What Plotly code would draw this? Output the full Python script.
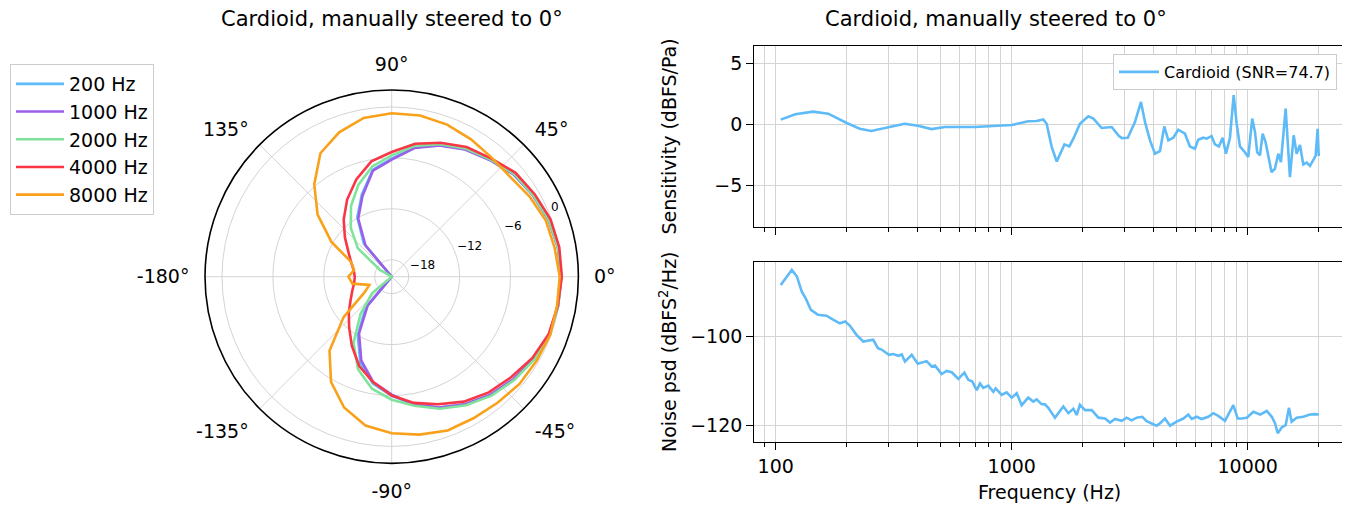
import plotly.graph_objects as go

# ---------------- Data ----------------
# Polar response (dB) sampled every 10 degrees, 0..350
angles_deg = list(range(0, 360, 10))

resp_200hz = [-0.02, -0.1, -0.33, -0.78, -1.22, -2.0, -2.65, -3.5, -4.55, -6.1,
              -7.2, -9.7, -11.9, -14.9, -20, -20, -20, -20, -20, -20,
              -20, -20, -20, -15.2, -12.0, -9.2, -7.2, -5.95, -4.7, -3.6,
              -2.65, -1.85, -1.2, -0.6, -0.25, -0.08]
resp_1000hz = [-0.03, -0.12, -0.35, -0.8, -1.25, -2.05, -2.7, -3.55, -4.6, -6.2,
               -7.3, -9.9, -12.1, -15.2, -20, -20, -20, -20, -20, -20,
               -20, -20, -20, -15.6, -12.3, -9.5, -7.4, -6.1, -4.7, -3.6,
               -2.65, -1.85, -1.25, -0.65, -0.25, -0.1]
resp_2000hz = [-0.03, -0.1, -0.3, -0.75, -1.15, -1.95, -2.55, -3.4, -4.35, -5.7,
               -6.8, -8.5, -10.4, -12.5, -14.8, -18.4, -20, -20, -20, -20,
               -20, -20, -17.0, -14.3, -11.0, -8.4, -6.6, -5.5, -4.55, -3.45,
               -2.5, -1.7, -1.1, -0.57, -0.22, -0.1]
resp_4000hz = [0.05, 0.05, -0.1, -0.55, -0.95, -1.8, -2.35, -3.2, -4.1, -5.3,
               -6.2, -7.8, -9.5, -11.2, -12.8, -14.1, -14.9, -15.45, -15.65, -15.5,
               -15.05, -14.4, -13.4, -12.2, -10.6, -8.8, -7.4, -6.0, -4.9, -4.0,
               -3.0, -2.2, -1.6, -0.85, -0.3, -0.14]
resp_8000hz = [-0.2, -0.5, -0.67, -1.2, -1.74, -1.68, -1.3, -0.93, -0.72, -0.74,
               -1.0, -1.9, -3.2, -5.8, -8.6, -11.8, -14.9, -15.5, -14.9, -15.3,
               -17.2, -16.3, -12.6, -8.6, -5.7, -3.6, -2.2, -1.55, -1.1, -0.72,
               -0.74, -0.6, -0.34, -0.26, -0.1, -0.22]

polar_names = ["200 Hz", "1000 Hz", "2000 Hz", "4000 Hz", "8000 Hz"]
polar_colors = ["#5FBBF7", "#9A5EE9", "#80E39B", "#F93646", "#F9A11B"]
polar_series = [resp_200hz, resp_1000hz, resp_2000hz, resp_4000hz, resp_8000hz]

angle_tickvals = [0, 45, 90, 135, 180, 225, 270, 315]
angle_ticktext = ["0°", "45°", "90°", "135°", "-180°", "-135°", "-90°", "-45°"]
radial_tickvals = [-18, -12, -6, 0]
radial_ticktext = ["−18", "−12", "−6", "0"]

# Sensitivity vs frequency
sens_freq = [105, 121, 144, 167, 200, 227, 254, 299, 352, 401,
             457, 521, 698, 1000, 1176, 1275, 1361, 1406, 1478, 1552,
             1619, 1672, 1755, 1825, 1946, 2112, 2218, 2405, 2653, 2830,
             2926, 3103, 3328, 3530, 3670, 3855, 4047, 4248, 4432, 4609,
             4838, 5080, 5420, 5690, 5975, 6170, 6480, 6700, 7030, 7260,
             7550, 7830, 8090, 8410, 8720, 8980, 9270, 9730, 10050, 10450,
             10730, 10970, 11270, 11570, 11910, 12620, 13040, 13470, 13830, 14480,
             15100, 15660, 16120, 16650, 17200, 17780, 18360, 18960, 19400, 19780,
             20000]
sens_db = [0.39, 0.83, 1.05, 0.88, 0.11, -0.36, -0.55, -0.28, 0.05, -0.11,
           -0.39, -0.22, -0.22, -0.05, 0.25, 0.27, 0.41, 0.05, -1.87, -3.06,
           -2.29, -1.65, -1.82, -1.18, 0.05, 0.66, 0.47, -0.30, -0.22, -0.91,
           -1.13, -1.10, 0.19, 1.84, 0.2, -1.32, -2.42, -2.2, -0.17, -1.32,
           -1.1, -0.44, -0.77, -1.82, -2.0, -1.27, -1.1, -1.18, -0.96, -1.65,
           -1.82, -1.1, -2.42, -1.1, 2.40, 0.05, -1.82, -2.29, -2.7, 0.47,
           -0.6, -2.29, -2.56, -0.77, -1.49, -3.94, -3.66, -2.42, -3.11, 1.29,
           -4.35, -0.9, -2.42, -1.7, -3.3, -3.15, -3.42, -2.9, -2.6, -0.36,
           -2.6]

# Noise PSD vs frequency
noise_freq = [105, 117, 123, 129, 134, 141, 151, 164, 175, 187,
              197, 206, 220, 235, 259, 271, 281, 302, 315, 331,
              342, 353, 377, 400, 436, 458, 473, 505, 530, 557,
              594, 630, 655, 681, 711, 734, 758, 796, 836, 855,
              907, 952, 1000, 1050, 1102, 1175, 1235, 1276, 1340, 1384,
              1429, 1525, 1655, 1738, 1825, 1885, 1945, 2046, 2183, 2330,
              2485, 2610, 2740, 2925, 3070, 3223, 3385, 3575, 3730, 3918,
              4111, 4245, 4463, 4686, 5000, 5337, 5600, 5790, 6080, 6380,
              6810, 7150, 7500, 8010, 8410, 8690, 9070, 9435, 9910, 10570,
              11280, 12040, 12650, 13060, 13400, 13930, 14480, 14960, 15350, 16130,
              17200, 18370, 19270, 20000]
noise_db = [-88.4, -85.0, -86.5, -89.9, -91.4, -94.0, -95.1, -95.3, -96.2, -97.0,
            -96.6, -97.5, -99.6, -101.1, -100.7, -102.6, -102.9, -104.1, -103.9, -104.3,
            -104.0, -105.6, -104.1, -106.1, -105.5, -106.7, -106.5, -108.4, -107.7, -108.0,
            -109.5, -108.1, -109.7, -110.1, -112.0, -110.5, -111.5, -111.0, -112.4, -111.6,
            -113.1, -112.5, -113.7, -112.7, -115.4, -113.7, -114.6, -114.1, -115.2, -115.2,
            -116.0, -118.2, -115.7, -117.2, -116.2, -117.6, -115.3, -116.5, -116.5, -118.2,
            -118.4, -119.3, -118.5, -118.9, -118.2, -118.8, -118.2, -118.0, -119.0, -119.5,
            -120.0, -119.5, -118.4, -120.0, -119.1, -118.4, -117.5, -118.5, -118.0, -118.5,
            -118.0, -117.2, -117.8, -118.9, -116.9, -115.4, -118.4, -118.4, -118.2, -116.9,
            -117.5, -116.7, -118.0, -119.5, -121.7, -120.4, -119.9, -116.0, -119.1, -118.2,
            -118.0, -117.5, -117.4, -117.5]

freq_major = [100, 1000, 10000]
freq_major_text = ["100", "1000", "10000"]
freq_minor = [90, 200, 300, 400, 500, 600, 700, 800, 900,
              2000, 3000, 4000, 5000, 6000, 7000, 8000, 9000, 20000]
sens_ticks = [-5, 0, 5]
sens_ticktext = ["−5", "0", "5"]
noise_ticks = [-120, -100]
noise_ticktext = ["−120", "−100"]

# ---------------- Figure ----------------
FONT = "DejaVu Sans"
GRID = "#d4d4d4"
# The page places the figure 8px from the window's top-left corner
OX, OY = 8, 8
FW, FH = 1342, 498


def px(x):
    return (x - OX) / FW


def py(y):
    return 1 - (y - OY) / FH


fig = go.Figure()

for name, vals, color in zip(polar_names, polar_series, polar_colors):
    fig.add_trace(go.Scatterpolar(
        r=vals + [vals[0]], theta=angles_deg + [360], mode="lines", name=name,
        line=dict(color=color, width=2.6), legend="legend", subplot="polar"))

# empty trace so the label-only polar overlay (radial tick labels) is rendered
fig.add_trace(go.Scatterpolar(r=[], theta=[], mode="lines", showlegend=False,
                              hoverinfo="skip", subplot="polar2"))

fig.add_trace(go.Scatter(
    x=sens_freq, y=sens_db, mode="lines", name="Cardioid (SNR=74.7)",
    line=dict(color=polar_colors[0], width=2.6), xaxis="x", yaxis="y",
    legend="legend2"))
fig.add_trace(go.Scatter(
    x=noise_freq, y=noise_db, mode="lines", showlegend=False,
    line=dict(color=polar_colors[0], width=2.6), xaxis="x2", yaxis="y2"))

xdom = [px(754.3), px(1344.3)]
xrange_log = [1.9093, 4.4093]


def xaxis_cfg(anchor, labels):
    return dict(
        domain=xdom, anchor=anchor, type="log", range=xrange_log,
        tickmode="array", tickvals=freq_major,
        ticktext=freq_major_text if labels else ["", "", ""],
        showticklabels=labels, ticks="outside", ticklen=7, tickwidth=1.3,
        tickcolor="black", showgrid=True, gridcolor=GRID, gridwidth=1,
        showline=True, mirror=True, linecolor="black", linewidth=1.3,
        zeroline=False, tickfont=dict(family=FONT, size=19, color="black"),
        minor=dict(tickmode="array", tickvals=freq_minor, ticks="outside",
                   ticklen=4, tickwidth=1, tickcolor="black", showgrid=True,
                   gridcolor=GRID, gridwidth=1))


def yaxis_cfg(anchor, dom, rng, tv, tt):
    return dict(
        domain=dom, anchor=anchor, range=rng, tickmode="array", tickvals=tv,
        ticktext=tt, ticks="outside", ticklen=7, tickwidth=1.3,
        tickcolor="black", showgrid=True, gridcolor=GRID, gridwidth=1,
        showline=True, mirror=True, linecolor="black", linewidth=1.3,
        zeroline=False, tickfont=dict(family=FONT, size=19, color="black"))


POLAR_TOP, POLAR_BOTTOM = 90, 463.4
LABEL_LIFT = 13  # radial labels sit a little above their circles

fig.update_layout(
    width=FW, height=FH, autosize=False,
    margin=dict(l=0, r=0, t=0, b=0),
    paper_bgcolor="white", plot_bgcolor="white",
    font=dict(family=FONT, color="black"),
    xaxis=xaxis_cfg("y", False),
    yaxis=yaxis_cfg("x", [py(227), py(46)], [-8.45, 6.45],
                    sens_ticks, sens_ticktext),
    xaxis2=xaxis_cfg("y2", True),
    yaxis2=yaxis_cfg("x2", [py(441.7), py(262.3)], [-123.6, -83.3],
                     noise_ticks, noise_ticktext),
    polar=dict(
        domain=dict(x=[px(205), px(578.4)], y=[py(POLAR_BOTTOM), py(POLAR_TOP)]),
        bgcolor="white",
        angularaxis=dict(
            rotation=0, direction="counterclockwise",
            tickmode="array", tickvals=angle_tickvals, ticktext=angle_ticktext,
            tickfont=dict(family=FONT, size=19, color="black"),
            ticks="outside", ticklen=11, tickcolor="rgba(0,0,0,0)",
            showline=True, linecolor="black", linewidth=1.6,
            showgrid=True, gridcolor=GRID, gridwidth=1.3),
        radialaxis=dict(
            range=[-20, 2], angle=22.5, tickmode="array",
            tickvals=radial_tickvals, showticklabels=False,
            showline=False, ticks="", showgrid=True, gridcolor=GRID,
            gridwidth=1.3)),
    polar2=dict(
        domain=dict(x=[px(205), px(578.4)],
                    y=[py(POLAR_BOTTOM - LABEL_LIFT), py(POLAR_TOP - LABEL_LIFT)]),
        bgcolor="rgba(0,0,0,0)",
        angularaxis=dict(visible=False, rotation=0,
                         direction="counterclockwise"),
        radialaxis=dict(
            range=[-20, 2], angle=22.5, tickangle=22.5, side="clockwise",
            tickmode="array", tickvals=radial_tickvals, ticktext=radial_ticktext,
            tickfont=dict(family=FONT, size=12, color="black"),
            showline=False, ticks="", showgrid=False)),
    legend=dict(
        x=px(10), y=py(64), xanchor="left", yanchor="top",
        bgcolor="white", bordercolor="#cccccc", borderwidth=1,
        font=dict(family=FONT, size=19, color="black"), itemwidth=48,
        tracegroupgap=0),
    legend2=dict(
        x=px(1337), y=py(54), xanchor="right", yanchor="top",
        bgcolor="white", bordercolor="#cccccc", borderwidth=1,
        font=dict(family=FONT, size=16, color="black"), itemwidth=40),
    annotations=[
        dict(text="Cardioid, manually steered to 0°", x=px(392), y=py(19),
             xref="paper", yref="paper", showarrow=False,
             xanchor="center", yanchor="middle",
             font=dict(family=FONT, size=21, color="black")),
        dict(text="Cardioid, manually steered to 0°", x=px(996), y=py(19),
             xref="paper", yref="paper", showarrow=False,
             xanchor="center", yanchor="middle",
             font=dict(family=FONT, size=21, color="black")),
        dict(text="Sensitivity (dBFS/Pa)", x=px(668), y=py(136.5),
             xref="paper", yref="paper", showarrow=False, textangle=-90,
             xanchor="center", yanchor="middle",
             font=dict(family=FONT, size=19, color="black")),
        dict(text="Noise psd (dBFS<sup>2</sup>/Hz)", x=px(668), y=py(352),
             xref="paper", yref="paper", showarrow=False, textangle=-90,
             xanchor="center", yanchor="middle",
             font=dict(family=FONT, size=19, color="black")),
        dict(text="Frequency (Hz)", x=px(1049), y=py(492),
             xref="paper", yref="paper", showarrow=False,
             xanchor="center", yanchor="middle",
             font=dict(family=FONT, size=19, color="black")),
    ],
)

fig.write_html("out.html")
